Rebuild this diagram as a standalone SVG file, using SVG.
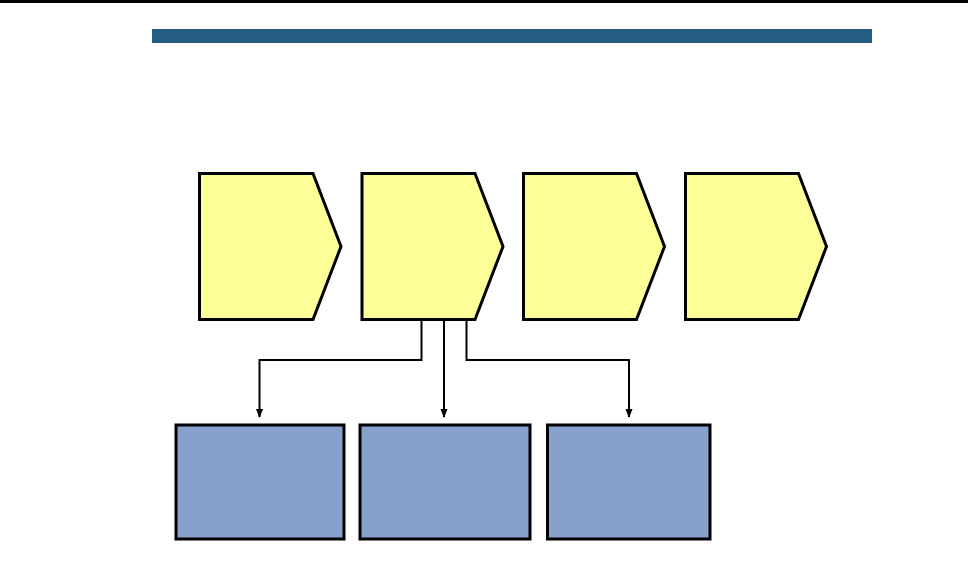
<svg xmlns="http://www.w3.org/2000/svg" width="968" height="569" viewBox="0 0 968 569">
<style>
.step{fill:#FFFF99;stroke:#000;stroke-width:3;stroke-linejoin:miter}
.box{fill:#88A0CC;stroke:#000;stroke-width:3}
.con{fill:none;stroke:#000;stroke-width:2}
</style>
<defs>
<marker id="ah" markerWidth="10" markerHeight="10" refX="8" refY="5" orient="auto" markerUnits="userSpaceOnUse" viewBox="0 0 10 10">
<path d="M0,1.5 L9,5 L0,8.5 Z" fill="#000"/>
</marker>
</defs>
<rect x="0" y="0" width="968" height="3" fill="#000"/>
<rect x="152" y="29" width="720" height="14" fill="#255E82"/>
<g id="step1"><path class="step" d="M199.5,173.5 H313 L341,246.5 L313,319.5 H199.5 Z"/></g>
<g id="step2"><path class="step" d="M362,173.5 H475 L503,246.5 L475,319.5 H362 Z"/></g>
<g id="step3"><path class="step" d="M523.5,173.5 H636.5 L664.5,246.5 L636.5,319.5 H523.5 Z"/></g>
<g id="step4"><path class="step" d="M685.5,173.5 H798.5 L826.5,246.5 L798.5,319.5 H685.5 Z"/></g>
<g id="box1"><rect class="box" x="176" y="425" width="168" height="114"/></g>
<g id="box2"><rect class="box" x="360" y="425" width="170" height="114"/></g>
<g id="box3"><rect class="box" x="547.5" y="425" width="162.5" height="114"/></g>
<g id="connectors">
<path class="con" d="M421.5,320 V360 H259.5 V417" marker-end="url(#ah)"/>
<path class="con" d="M444,320 V417" marker-end="url(#ah)"/>
<path class="con" d="M466.5,320 V360 H629 V417" marker-end="url(#ah)"/>
</g>
</svg>
